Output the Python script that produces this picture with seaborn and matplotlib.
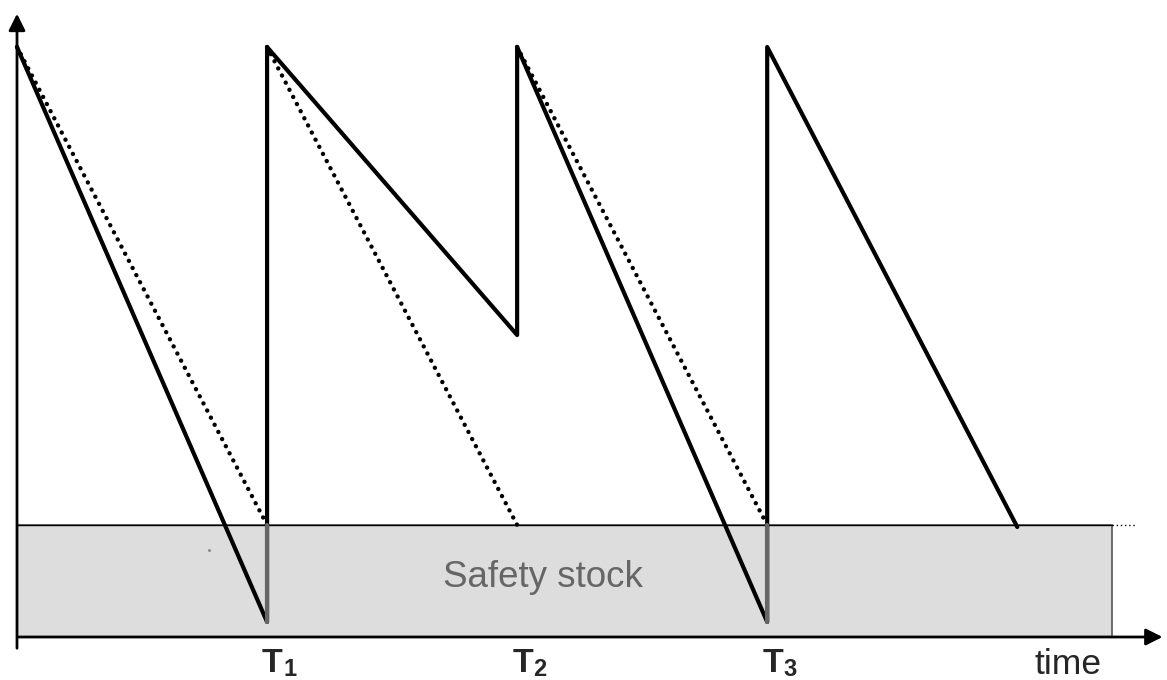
import numpy as np
import pandas as pd
import seaborn as sns
import matplotlib.pyplot as plt
from matplotlib.patches import Rectangle

sns.set_style("white")
plt.rcParams.update({'font.family': ['Liberation Sans', 'DejaVu Sans']})

# inventory path (time, stock), 1 unit = 10 px
path_t = [0, 25, 25, 50, 50, 75, 75, 100]
path_q = [59, 1.5, 59, 30.2, 59, 1.5, 59, 11]

# planned (dotted) consumption lines
plan_start = [0, 25, 50]
plan_end = [25, 50, 75]
peak = 59
safety = 11.2

order_times = [25, 50, 75]
order_labels = ['1', '2', '3']
box_end = 109.5

fig = plt.figure(figsize=(11.67, 6.8), dpi=100)
ax = fig.add_axes([0, 0, 1, 1])
ax.set_xlim(-1.7, 114.97)
ax.set_ylim(-4.3, 63.7)
ax.axis('off')

# safety stock box
ax.add_patch(Rectangle((0, 0), box_end, safety, facecolor='#dddddd',
                       edgecolor='#555555', lw=1.2, zorder=1))
ax.plot([0, box_end], [safety, safety], color='black', lw=1, zorder=2)
ax.plot([box_end, box_end + 2.3], [safety, safety], color='black', lw=1,
        linestyle=(0, (1, 2)), zorder=2)
ax.text(52.6, 5.0, 'Safety stock', color='#666666',
        fontsize=26.5, ha='center', va='baseline', zorder=3)
ax.plot([19.2], [8.7], marker='s', ms=1, color='#888888', zorder=3)

# dotted planned lines
for s, e in zip(plan_start, plan_end):
    df = pd.DataFrame({'t': [s, e], 'q': [peak, safety]})
    sns.lineplot(data=df, x='t', y='q', ax=ax, color='black', lw=3.2,
                 linestyle=(0, (0.01, 1.8)), dash_capstyle='round', zorder=4)

# actual inventory
df = pd.DataFrame({'t': path_t, 'q': path_q})
sns.lineplot(data=df, x='t', y='q', ax=ax, sort=False, estimator=None,
             color='black', lw=3, zorder=5)
# vertical replenishments inside the box look greyed
for t in [25, 75]:
    ax.plot([t, t], [1.5, safety], color='#666666', lw=3, zorder=6)

# axes arrows
ax.annotate('', xy=(114.8, 0), xytext=(-0.1, 0),
            arrowprops=dict(arrowstyle='-|>', color='black', lw=2,
                            mutation_scale=25), zorder=7)
ax.annotate('', xy=(0, 62.6), xytext=(0, -1.4),
            arrowprops=dict(arrowstyle='-|>', color='black', lw=2,
                            mutation_scale=25), zorder=7)

for t, lab in zip(order_times, order_labels):
    ax.text(t - 0.5, -3.5, 'T', fontsize=24.5, ha='left', va='baseline',
            fontweight='bold')
    ax.text(t + 1.6, -3.95, lab, fontsize=17, ha='left', va='baseline',
            fontweight='bold')
ax.text(105.1, -3.7, 'time', fontsize=25.5, ha='center', va='baseline')

ax.set_xlabel('')
ax.set_ylabel('')
fig.savefig('out.png', dpi=100)
